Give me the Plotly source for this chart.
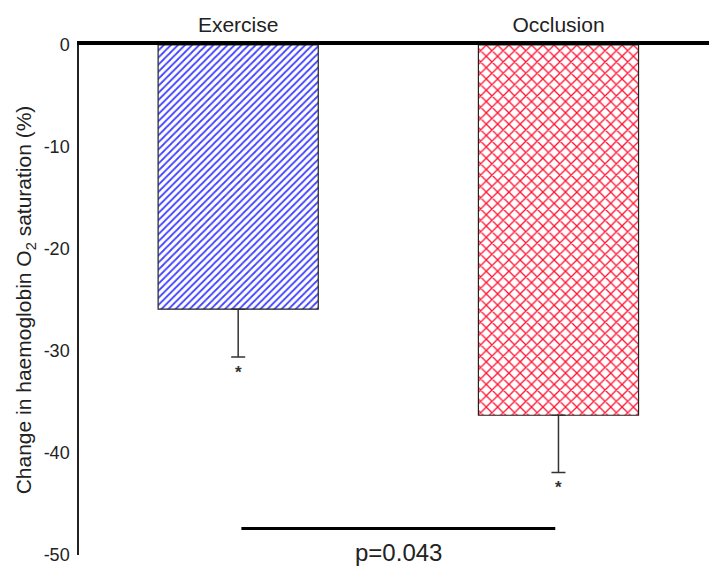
import plotly.graph_objects as go

categories = ["Exercise", "Occlusion"]
values = [-25.9, -36.3]
errors = [4.7, 5.6]
pattern_shapes = ["/", "x"]
pattern_colors = ["#4040ff", "#ff1030"]
y_tickvals = [0, -10, -20, -30, -40, -50]
y_ticktext = ["0", "-10", "-20", "-30", "-40", "-50"]
sig_line_x = [0.01, 0.99]
sig_line_y = -47.4
p_text = "p=0.043"
p_x = 0.5
p_y = -49.8

FONT = "Liberation Sans, Arial, Helvetica, sans-serif"

fig = go.Figure()
for i, cat in enumerate(categories):
    fig.add_trace(go.Bar(
        x=[i], y=[values[i]], width=0.5,
        marker=dict(
            color="white",
            line=dict(color="#222222", width=1.2),
            pattern=dict(shape=pattern_shapes[i], fgcolor=pattern_colors[i],
                         bgcolor="white", fgopacity=1, size=5 if i == 0 else 8,
                         solidity=0.35 if i == 0 else 0.3, fillmode="overlay"),
        ),
        error_y=dict(type="data", symmetric=False, array=[0], arrayminus=[errors[i]],
                     color="#333333", thickness=1.5, width=7),
        showlegend=False,
    ))
    fig.add_annotation(x=i, y=values[i] - errors[i], text="<b>*</b>", showarrow=False,
                       yanchor="top", yshift=-4, font=dict(family=FONT, size=17, color="#333333"))

fig.add_shape(type="line", xref="x", yref="y", x0=sig_line_x[0], x1=sig_line_x[1],
              y0=sig_line_y, y1=sig_line_y, line=dict(color="black", width=3))
fig.add_annotation(x=p_x, y=p_y, text=p_text, showarrow=False, yanchor="middle",
                   font=dict(family=FONT, size=24, color="#222222"))

fig.update_layout(
    width=709, height=572,
    margin=dict(l=79, r=0, t=45, b=17),
    paper_bgcolor="white", plot_bgcolor="white",
    font=dict(family=FONT, color="#222222"),
    xaxis=dict(
        side="top", range=[-0.497, 1.47],
        tickvals=[0, 1], ticktext=categories,
        tickfont=dict(size=21, color="#222222"),
        showline=True, linecolor="black", linewidth=4,
        showgrid=False, zeroline=False, ticks="", ticklabelstandoff=1,
    ),
    yaxis=dict(
        range=[-50, 0],
        tickvals=y_tickvals, ticktext=y_ticktext,
        tickfont=dict(size=18, color="#222222"),
        showline=True, linecolor="#222222", linewidth=1.5,
        showgrid=False, zeroline=False, ticks="", ticklabelstandoff=4,
        title=dict(text="Change in haemoglobin O<sub>2</sub> saturation (%)",
                   font=dict(size=21, color="#222222"), standoff=6),
    ),
)

fig.write_html("out.html")
